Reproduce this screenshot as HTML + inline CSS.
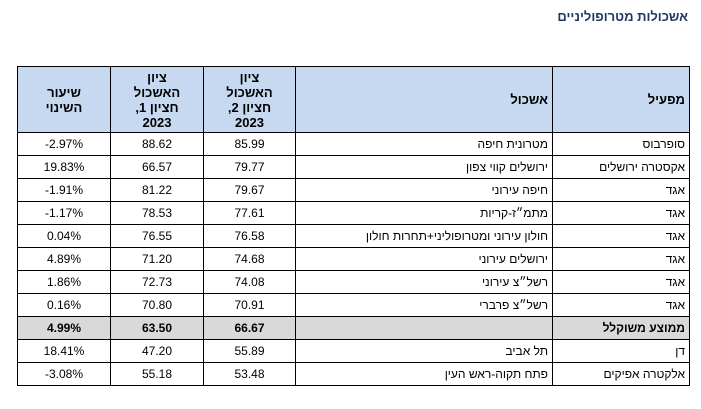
<!DOCTYPE html>
<html><head><meta charset="utf-8"><style>
body{margin:0;width:701px;height:409px;background:#fff;position:relative;overflow:hidden;font-family:"Liberation Sans","Noto Sans CJK SC",sans-serif;}
.t{position:absolute;right:13px;top:9px;font-size:13px;font-weight:bold;color:#1f3864;direction:rtl;}
table{position:absolute;left:17px;top:66px;border-collapse:collapse;table-layout:fixed;width:672px;font-size:12px;color:#000;}
td{border:1.3px solid #000;height:22px;padding:0 4px;text-align:center;line-height:14px;}
tr.h td{background:#c6d9f1;font-weight:bold;height:65px;direction:rtl;font-size:13px;line-height:15px;}
tr.a td{background:#d9d9d9;font-weight:bold;}
td.r{text-align:right;direction:rtl;}
</style></head><body>
<div class="t">אשכולות מטרופוליניים</div>
<table>
<colgroup><col style="width:93px"><col style="width:93px"><col style="width:92px"><col style="width:257px"><col style="width:137px"></colgroup>
<tr class="h"><td>שיעור<br>השינוי</td><td>ציון<br>האשכול<br>חציון 1,<br>2023</td><td>ציון<br>האשכול<br>חציון 2,<br>2023</td><td class="r">אשכול</td><td class="r">מפעיל</td></tr>
<tr><td>-2.97%</td><td>88.62</td><td>85.99</td><td class="r">מטרונית חיפה</td><td class="r">סופרבוס</td></tr>
<tr><td>19.83%</td><td>66.57</td><td>79.77</td><td class="r">ירושלים קווי צפון</td><td class="r">אקסטרה ירושלים</td></tr>
<tr><td>-1.91%</td><td>81.22</td><td>79.67</td><td class="r">חיפה עירוני</td><td class="r">אגד</td></tr>
<tr><td>-1.17%</td><td>78.53</td><td>77.61</td><td class="r">מתמ״ז-קריות</td><td class="r">אגד</td></tr>
<tr><td>0.04%</td><td>76.55</td><td>76.58</td><td class="r">חולון עירוני ומטרופוליני+תחרות חולון</td><td class="r">אגד</td></tr>
<tr><td>4.89%</td><td>71.20</td><td>74.68</td><td class="r">ירושלים עירוני</td><td class="r">אגד</td></tr>
<tr><td>1.86%</td><td>72.73</td><td>74.08</td><td class="r">רשל״צ עירוני</td><td class="r">אגד</td></tr>
<tr><td>0.16%</td><td>70.80</td><td>70.91</td><td class="r">רשל״צ פרברי</td><td class="r">אגד</td></tr>
<tr class="a"><td>4.99%</td><td>63.50</td><td>66.67</td><td class="r"></td><td class="r">ממוצע משוקלל</td></tr>
<tr><td>18.41%</td><td>47.20</td><td>55.89</td><td class="r">תל אביב</td><td class="r">דן</td></tr>
<tr><td>-3.08%</td><td>55.18</td><td>53.48</td><td class="r">פתח תקוה-ראש העין</td><td class="r">אלקטרה אפיקים</td></tr>
</table>
</body></html>
